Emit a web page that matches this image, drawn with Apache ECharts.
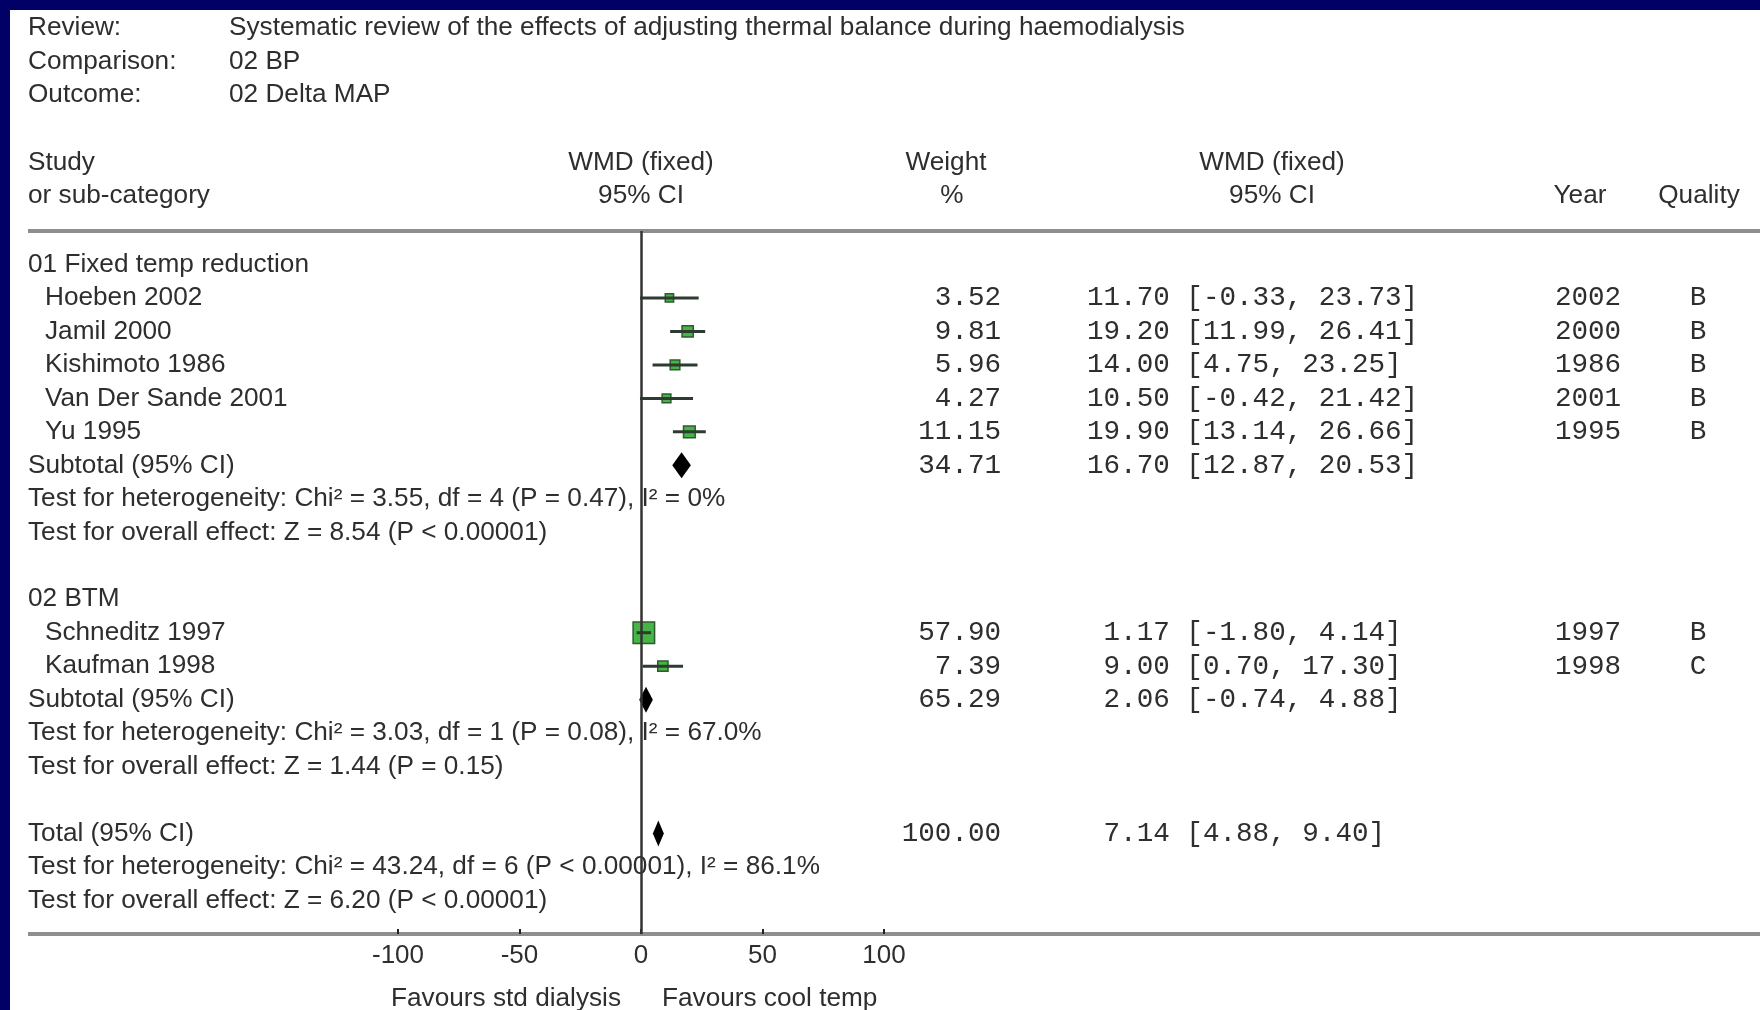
<!DOCTYPE html>
<html><head><meta charset="utf-8">
<script src="https://cdn.jsdelivr.net/npm/echarts@6/dist/echarts.min.js"></script>
<style>
html,body{margin:0;padding:0;background:#000066;overflow:hidden;}
#paper{position:absolute;left:10px;top:10px;width:1750px;height:1000px;background:#ffffff;}
#chart{position:absolute;left:0;top:0;width:1760px;height:1010px;}
</style>
</head><body><div id="paper"></div><div id="chart"></div>
<script>
// ---------- data ----------
const headerLabels = ["Review:", "Comparison:", "Outcome:"];
const headerValues = ["Systematic review of the effects of adjusting thermal balance during haemodialysis", "02 BP", "02 Delta MAP"];

const groupNames = ["01 Fixed temp reduction", "02 BTM"];
const groupRows = [0, 10];

const studyNames = ["Hoeben 2002", "Jamil 2000", "Kishimoto 1986", "Van Der Sande 2001", "Yu 1995", "Schneditz 1997", "Kaufman 1998"];
const studyRows = [1, 2, 3, 4, 5, 11, 12];
const studyWeight = [3.52, 9.81, 5.96, 4.27, 11.15, 57.90, 7.39];
const studyMean = [11.70, 19.20, 14.00, 10.50, 19.90, 1.17, 9.00];
const studyLow = [-0.33, 11.99, 4.75, -0.42, 13.14, -1.80, 0.70];
const studyHigh = [23.73, 26.41, 23.25, 21.42, 26.66, 4.14, 17.30];
const studyYear = ["2002", "2000", "1986", "2001", "1995", "1997", "1998"];
const studyQuality = ["B", "B", "B", "B", "B", "B", "C"];

const pooledNames = ["Subtotal (95% CI)", "Subtotal (95% CI)", "Total (95% CI)"];
const pooledRows = [6, 13, 17];
const pooledWeight = [34.71, 65.29, 100.00];
const pooledMean = [16.70, 2.06, 7.14];
const pooledLow = [12.87, -0.74, 4.88];
const pooledHigh = [20.53, 4.88, 9.40];

const testTexts = [
  "Test for heterogeneity: Chi\u00b2 = 3.55, df = 4 (P = 0.47), I\u00b2 = 0%",
  "Test for overall effect: Z = 8.54 (P < 0.00001)",
  "Test for heterogeneity: Chi\u00b2 = 3.03, df = 1 (P = 0.08), I\u00b2 = 67.0%",
  "Test for overall effect: Z = 1.44 (P = 0.15)",
  "Test for heterogeneity: Chi\u00b2 = 43.24, df = 6 (P < 0.00001), I\u00b2 = 86.1%",
  "Test for overall effect: Z = 6.20 (P < 0.00001)"
];
const testRows = [7, 8, 14, 15, 18, 19];

const xTicks = [-100, -50, 0, 50, 100];
const favourLabels = ["Favours std dialysis", "Favours cool temp"];

// ---------- styles / layout ----------
const SANS = "'Liberation Sans', Arial, sans-serif";
const MONO = "'Liberation Mono', 'Courier New', monospace";
const TXT = "#2e2e2e";
const SANS_SIZE = 26.2;
const MONO_SIZE = 27.6;

function fmt(v) { return v.toFixed(2); }
function ciText(m, l, h) { return fmt(m).padStart(5, " ") + " [" + fmt(l) + ", " + fmt(h) + "]"; }

// table rows built from arrays
const tableRows = [];
groupNames.forEach((n, i) => tableRows.push({row: groupRows[i], label: n, indent: false}));
studyNames.forEach((n, i) => tableRows.push({
  row: studyRows[i], label: n, indent: true,
  weight: fmt(studyWeight[i]), ci: ciText(studyMean[i], studyLow[i], studyHigh[i]),
  year: studyYear[i], quality: studyQuality[i]
}));
pooledNames.forEach((n, i) => tableRows.push({
  row: pooledRows[i], label: n, indent: false,
  weight: fmt(pooledWeight[i]), ci: ciText(pooledMean[i], pooledLow[i], pooledHigh[i])
}));
testTexts.forEach((t, i) => tableRows.push({row: testRows[i], label: t, indent: false}));

function textEl(x, y, text, font, align, size) {
  return {type: 'text', style: {x: x, y: y, text: text, fontFamily: font, fontSize: size,
    fill: TXT, align: align, verticalAlign: 'middle'}};
}

function renderTable(params, api) {
  const r = tableRows[params.dataIndex];
  const y = api.coord([0, r.row])[1];
  const ch = [];
  ch.push(textEl(r.indent ? 45 : 28, y, r.label, SANS, 'left', SANS_SIZE));
  if (r.weight) ch.push(textEl(1001, y, r.weight, MONO, 'right', MONO_SIZE));
  if (r.ci) ch.push(textEl(1087, y, r.ci, MONO, 'left', MONO_SIZE));
  if (r.year) ch.push(textEl(1588, y, r.year, MONO, 'center', MONO_SIZE));
  if (r.quality) ch.push(textEl(1698, y, r.quality, MONO, 'center', MONO_SIZE));
  return {type: 'group', children: ch};
}

function renderStudy(params, api) {
  const row = api.value(3);
  const pL = api.coord([api.value(0), row]);
  const pH = api.coord([api.value(1), row]);
  const pM = api.coord([api.value(2), row]);
  const side = 4 + 2.3 * Math.sqrt(api.value(4));
  return {type: 'group', children: [
    {type: 'rect', shape: {x: pM[0] - side / 2, y: pM[1] - side / 2, width: side, height: side},
      style: {fill: '#46b446', stroke: '#2f5a2f', lineWidth: 1.5}},
    {type: 'line', shape: {x1: pL[0], y1: pL[1], x2: pH[0], y2: pH[1]},
      style: {stroke: '#2c3c2e', lineWidth: 3}}
  ]};
}

function renderDiamond(params, api) {
  const row = api.value(3);
  const pL = api.coord([api.value(0), row]);
  const pH = api.coord([api.value(1), row]);
  const pM = api.coord([api.value(2), row]);
  const h = 13;
  return {type: 'polygon', shape: {points: [[pL[0], pL[1]], [pM[0], pM[1] - h], [pH[0], pH[1]], [pM[0], pM[1] + h]]},
    style: {fill: '#000000'}};
}

const colHeaders = [
  {x: 28, y: 163, t: "Study", a: 'left'},
  {x: 28, y: 196, t: "or sub-category", a: 'left'},
  {x: 641, y: 163, t: "WMD (fixed)", a: 'center'},
  {x: 641, y: 196, t: "95% CI", a: 'center'},
  {x: 946, y: 163, t: "Weight", a: 'center'},
  {x: 952, y: 196, t: "%", a: 'center'},
  {x: 1272, y: 163, t: "WMD (fixed)", a: 'center'},
  {x: 1272, y: 196, t: "95% CI", a: 'center'},
  {x: 1580, y: 196, t: "Year", a: 'center'},
  {x: 1699, y: 196, t: "Quality", a: 'center'}
];

const graphics = [];
headerLabels.forEach((t, i) => {
  const y = [28, 62, 95][i];
  graphics.push({type: 'text', x: 28, y: y, style: {text: t, font: SANS_SIZE + "px " + SANS, fill: TXT, textAlign: 'left', textVerticalAlign: 'middle'}});
  graphics.push({type: 'text', x: 229, y: y, style: {text: headerValues[i], font: SANS_SIZE + "px " + SANS, fill: TXT, textAlign: 'left', textVerticalAlign: 'middle'}});
});
colHeaders.forEach(c => graphics.push({type: 'text', x: c.x, y: c.y,
  style: {text: c.t, font: SANS_SIZE + "px " + SANS, fill: TXT, textAlign: c.a, textVerticalAlign: 'middle'}}));
graphics.push({type: 'line', shape: {x1: 28, y1: 231, x2: 1760, y2: 231}, style: {stroke: '#8e8e8e', lineWidth: 4}, z: 0});
graphics.push({type: 'line', shape: {x1: 28, y1: 934, x2: 1760, y2: 934}, style: {stroke: '#8e8e8e', lineWidth: 4}, z: 0});
graphics.push({type: 'text', x: 621, y: 999, style: {text: favourLabels[0], font: SANS_SIZE + "px " + SANS, fill: TXT, textAlign: 'right', textVerticalAlign: 'middle'}});
graphics.push({type: 'text', x: 662, y: 999, style: {text: favourLabels[1], font: SANS_SIZE + "px " + SANS, fill: TXT, textAlign: 'left', textVerticalAlign: 'middle'}});

const chart = echarts.init(document.getElementById('chart'), null, {renderer: 'canvas'});
chart.setOption({
  backgroundColor: 'transparent',
  animation: false,
  graphic: {elements: graphics},
  grid: {left: 398, right: 876, top: 231, bottom: 76, containLabel: false},
  xAxis: {
    type: 'value', min: xTicks[0], max: xTicks[xTicks.length - 1], interval: xTicks[1] - xTicks[0],
    position: 'bottom',
    axisLine: {show: false, onZero: false},
    axisTick: {show: true, inside: true, length: 5, lineStyle: {color: '#222', width: 2}},
    splitLine: {show: false},
    axisLabel: {color: TXT, fontSize: 26, fontFamily: SANS, margin: 9}
  },
  yAxis: {type: 'value', min: -1, max: 20, inverse: true, show: false, splitLine: {show: false}},
  series: [
    {type: 'custom', name: 'table', z: 1, clip: false, renderItem: renderTable,
      data: tableRows.map(r => [0, r.row]), encode: {x: 0, y: 1}, silent: true},
    {type: 'custom', name: 'studies', z: 3, clip: false, renderItem: renderStudy,
      data: studyRows.map((r, i) => [studyLow[i], studyHigh[i], studyMean[i], r, studyWeight[i]]),
      encode: {x: [0, 1, 2], y: 3},
      markLine: {silent: true, symbol: ['none', 'none'], label: {show: false},
        lineStyle: {color: '#333', width: 2.5, type: 'solid'}, data: [{xAxis: 0}]}},
    {type: 'custom', name: 'pooled', z: 4, clip: false, renderItem: renderDiamond,
      data: pooledRows.map((r, i) => [pooledLow[i], pooledHigh[i], pooledMean[i], r, pooledWeight[i]]),
      encode: {x: [0, 1, 2], y: 3}}
  ]
});
</script>
</body></html>
